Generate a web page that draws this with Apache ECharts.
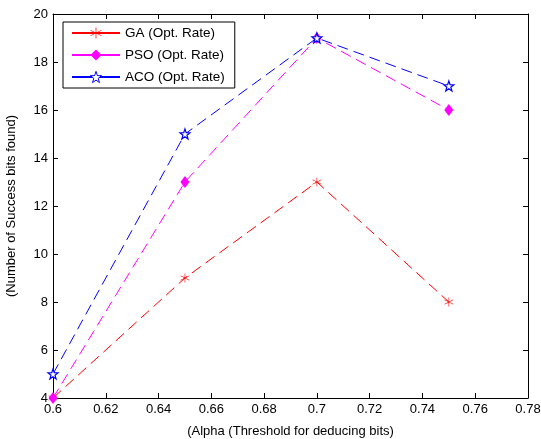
<html>
<head>
  <meta charset="utf-8">
  <style>
    html, body { margin: 0; padding: 0; background: #fff; }
    #container { width: 541px; height: 439px; }
  </style>
</head>
<body>
<div id="container"></div>
<script type="text/javascript" src="https://cdn.jsdelivr.net/npm/echarts@6/dist/echarts.min.js"></script>
<script type="text/javascript">
  var alpha = [0.6, 0.65, 0.7, 0.75];
  var gaRate = [4, 9, 13, 8];
  var psoRate = [4, 13, 19, 16];
  var acoRate = [5, 15, 19, 17];

  var starPath = 'path://M0,-10 L2.35,-3.24 L9.51,-3.09 L3.8,1.24 L5.88,8.09 L0,4 L-5.88,8.09 L-3.8,1.24 L-9.51,-3.09 L-2.35,-3.24 Z';
  var asteriskPath = 'path://M-0.6,-10 L0.6,-10 L0.6,-1 L8.6,-5.5 L9.2,-4.5 L1.2,0 L9.2,4.5 L8.6,5.5 L0.6,1 L0.6,10 L-0.6,10 L-0.6,1 L-8.6,5.5 L-9.2,4.5 L-1.2,0 L-9.2,-4.5 L-8.6,-5.5 L-0.6,-1 Z';

  function pairs(ys) {
    return alpha.map(function (x, i) { return [x, ys[i]]; });
  }

  var font = 'Liberation Sans';
  var dom = document.getElementById('container');
  var myChart = echarts.init(dom, null, { renderer: 'canvas' });

  var boxAxis = {
    axisLine: { show: true, lineStyle: { color: '#000', width: 1 } },
    axisTick: { show: true, inside: true, length: 5, lineStyle: { color: '#000' } },
    splitLine: { show: false }
  };

  var option = {
    animation: false,
    textStyle: { fontFamily: font },
    grid: { left: 53, right: 13, top: 14, bottom: 41, outerBoundsMode: 'none', containLabel: false },
    legend: {
      left: 63, top: 22, orient: 'vertical',
      backgroundColor: '#fff', borderColor: '#000', borderWidth: 1,
      padding: [4, 10, 4, 8], itemGap: 8,
      itemWidth: 48, itemHeight: 14,
      lineStyle: { type: 'solid' },
      textStyle: { fontFamily: font, fontSize: 13.5, color: '#000' },
      data: [
        'GA (Opt. Rate)',
        'PSO (Opt. Rate)',
        { name: 'ACO (Opt. Rate)', itemStyle: { color: '#fff', borderColor: '#0000ff', borderWidth: 1 } }
      ]
    },
    xAxis: [
      Object.assign({
        type: 'value', min: 0.6, max: 0.78, interval: 0.02,
        name: '(Alpha (Threshold for deducing bits)', nameLocation: 'middle', nameGap: 27,
        nameTextStyle: { fontFamily: font, fontSize: 13, color: '#000' },
        axisLabel: { color: '#000', fontSize: 13, margin: 5,
          formatter: function (v) { return String(Math.round(v * 100) / 100); } }
      }, boxAxis),
      Object.assign({
        type: 'value', min: 0.6, max: 0.78, interval: 0.02, position: 'top',
        axisLabel: { show: false }
      }, boxAxis)
    ],
    yAxis: [
      Object.assign({
        type: 'value', min: 4, max: 20, interval: 2,
        name: '(Number of Success bits found)', nameLocation: 'middle', nameGap: 35,
        nameTextStyle: { fontFamily: font, fontSize: 13, color: '#000' },
        axisLabel: { color: '#000', fontSize: 13, margin: 5 }
      }, boxAxis),
      Object.assign({
        type: 'value', min: 4, max: 20, interval: 2, position: 'right',
        axisLabel: { show: false }
      }, boxAxis)
    ],
    series: [
      {
        name: 'GA (Opt. Rate)', type: 'line', data: pairs(gaRate),
        symbol: asteriskPath, symbolSize: 9,
        itemStyle: { color: '#ff0000' },
        lineStyle: { color: '#ff0000', width: 1, type: [11, 6] }
      },
      {
        name: 'PSO (Opt. Rate)', type: 'line', data: pairs(psoRate),
        symbol: 'diamond', symbolSize: [9, 12],
        itemStyle: { color: '#ff00ff' },
        lineStyle: { color: '#ff00ff', width: 1, type: [11, 6] }
      },
      {
        name: 'ACO (Opt. Rate)', type: 'line', data: pairs(acoRate),
        symbol: starPath, symbolSize: 10,
        itemStyle: { color: '#fff', borderColor: '#0000ff', borderWidth: 1.2 },
        lineStyle: { color: '#0000ff', width: 1, type: [11, 6] }
      }
    ]
  };

  myChart.setOption(option);
</script>
</body>
</html>
